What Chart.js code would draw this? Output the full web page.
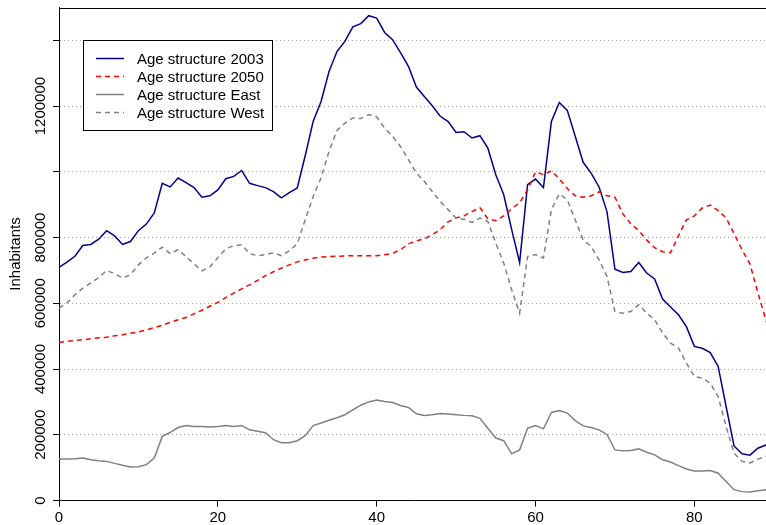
<!DOCTYPE html>
<html>
<head>
<meta charset="utf-8">
<title>Age structure</title>
<script src="https://cdn.jsdelivr.net/npm/chart.js@4.4.1/dist/chart.umd.min.js"></script>
<style>
  html, body { margin: 0; padding: 0; background: #fff; overflow: hidden; }
  #wrap { width: 769px; height: 525px; }
</style>
</head>
<body>
<div id="wrap"><canvas id="ageChart" width="769" height="525"></canvas></div>
<script>
// --- data ---
const ages = [
  0, 1, 2, 3, 4, 5, 6, 7, 8, 9,
  10, 11, 12, 13, 14, 15, 16, 17, 18, 19,
  20, 21, 22, 23, 24, 25, 26, 27, 28, 29,
  30, 31, 32, 33, 34, 35, 36, 37, 38, 39,
  40, 41, 42, 43, 44, 45, 46, 47, 48, 49,
  50, 51, 52, 53, 54, 55, 56, 57, 58, 59,
  60, 61, 62, 63, 64, 65, 66, 67, 68, 69,
  70, 71, 72, 73, 74, 75, 76, 77, 78, 79,
  80, 81, 82, 83, 84, 85, 86, 87, 88, 89,
  90
];

const pop2003 = [
  709000, 725000, 743000, 776000, 779000, 795000, 821000, 805000, 779000, 788000,
  821000, 841000, 875000, 965000, 954000, 981000, 967000, 952000, 923000, 927000,
  945000, 979000, 986000, 1004000, 965000, 958000, 952000, 940000, 921000, 937000,
  951000, 1049000, 1153000, 1214000, 1305000, 1366000, 1397000, 1441000, 1451000, 1475000,
  1468000, 1424000, 1402000, 1363000, 1321000, 1258000, 1229000, 1201000, 1169000, 1153000,
  1120000, 1122000, 1103000, 1110000, 1072000, 991000, 930000, 824000, 724000, 961000,
  978000, 952000, 1153000, 1211000, 1187000, 1108000, 1029000, 996000, 954000, 879000,
  704000, 694000, 697000, 724000, 692000, 674000, 613000, 589000, 565000, 529000,
  469000, 463000, 450000, 408000, 286000, 166000, 142000, 138000, 159000, 169000,
  130000
];

const pop2050 = [
  481000, 484000, 487000, 489000, 492000, 495000, 497000, 501000, 504000, 509000,
  513000, 519000, 526000, 533000, 542000, 550000, 557000, 568000, 579000, 591000,
  603000, 617000, 631000, 644000, 656000, 670000, 684000, 696000, 707000, 717000,
  726000, 732000, 737000, 741000, 742000, 743000, 744000, 745000, 745000, 745000,
  745000, 748000, 752000, 763000, 781000, 790000, 796000, 809000, 824000, 848000,
  860000, 866000, 879000, 891000, 857000, 851000, 866000, 888000, 906000, 945000,
  1000000, 991000, 1003000, 979000, 949000, 927000, 923000, 927000, 939000, 927000,
  923000, 872000, 842000, 821000, 793000, 769000, 757000, 754000, 805000, 854000,
  866000, 890000, 899000, 882000, 860000, 812000, 763000, 720000, 632000, 550000,
  468000
];

const popEast = [
  126000, 126000, 127000, 129000, 124000, 121000, 119000, 113000, 107000, 102000,
  103000, 109000, 129000, 195000, 207000, 222000, 228000, 225000, 225000, 224000,
  225000, 228000, 225000, 228000, 215000, 211000, 206000, 185000, 176000, 176000,
  182000, 197000, 228000, 236000, 244000, 252000, 261000, 276000, 290000, 300000,
  306000, 301000, 298000, 289000, 283000, 264000, 259000, 261000, 265000, 263000,
  261000, 259000, 258000, 250000, 220000, 190000, 182000, 142000, 154000, 220000,
  228000, 218000, 268000, 274000, 266000, 243000, 227000, 222000, 215000, 201000,
  154000, 151000, 152000, 157000, 147000, 139000, 124000, 117000, 106000, 96000,
  90000, 90000, 91000, 83000, 58000, 33000, 27000, 26000, 30000, 33000,
  30000
];

const popWest = [
  585000, 601000, 626000, 646000, 662000, 678000, 700000, 690000, 677000, 687000,
  717000, 738000, 753000, 771000, 751000, 763000, 742000, 720000, 699000, 711000,
  739000, 766000, 775000, 778000, 751000, 745000, 748000, 754000, 745000, 760000,
  781000, 854000, 925000, 982000, 1062000, 1126000, 1148000, 1164000, 1162000, 1174000,
  1167000, 1133000, 1108000, 1077000, 1037000, 996000, 971000, 940000, 910000, 885000,
  859000, 856000, 846000, 859000, 849000, 783000, 722000, 641000, 570000, 742000,
  748000, 738000, 885000, 933000, 915000, 854000, 793000, 773000, 732000, 682000,
  575000, 570000, 575000, 596000, 570000, 550000, 510000, 479000, 464000, 418000,
  377000, 372000, 357000, 316000, 225000, 144000, 119000, 114000, 126000, 134000,
  121000
];

const seriesNames = ['Age structure 2003', 'Age structure 2050', 'Age structure East', 'Age structure West'];
const xTickValues = [0, 20, 40, 60, 80];
const yTickValues = [0, 200000, 400000, 600000, 800000, 1000000, 1200000, 1400000];
const yLabelValues = [0, 200000, 400000, 600000, 800000, 1200000];

// --- styling ---
const FONT = '"Liberation Sans", Arial, Helvetica, sans-serif';
Chart.defaults.font.family = FONT;
Chart.defaults.font.size = 15;
Chart.defaults.color = '#000';

const seriesStyle = [
  { color: '#00008b', dash: [] },
  { color: '#ff0000', dash: [5, 4] },
  { color: '#808080', dash: [] },
  { color: '#808080', dash: [5, 4] }
];

function toPoints(vals) {
  return vals.map((v, i) => ({ x: ages[i], y: v }));
}

// R-ish frame: top border, rotated y labels, boxed legend
const rFrame = {
  id: 'rFrame',
  afterDraw(chart) {
    const ctx = chart.ctx;
    const area = chart.chartArea;
    const yScale = chart.scales.y;

    ctx.save();
    ctx.strokeStyle = '#000';
    ctx.lineWidth = 1;
    ctx.beginPath();
    ctx.moveTo(area.left, Math.round(area.top) + 0.5);
    ctx.lineTo(area.right, Math.round(area.top) + 0.5);
    ctx.stroke();

    // y tick labels, reading upwards like R's las=0
    ctx.fillStyle = '#000';
    ctx.font = '15px ' + FONT;
    ctx.textAlign = 'center';
    ctx.textBaseline = 'alphabetic';
    yLabelValues.forEach(v => {
      const py = yScale.getPixelForValue(v);
      ctx.save();
      ctx.translate(45, py);
      ctx.rotate(-Math.PI / 2);
      ctx.fillText(String(v), 0, 0);
      ctx.restore();
    });

    // legend box
    const box = { x: 83.5, y: 40.5, w: 189, h: 90 };
    ctx.fillStyle = '#fff';
    ctx.fillRect(box.x, box.y, box.w, box.h);
    ctx.strokeStyle = '#000';
    ctx.strokeRect(box.x, box.y, box.w, box.h);

    const rows = [58.5, 76.5, 94.5, 112.5];
    ctx.textAlign = 'left';
    ctx.textBaseline = 'middle';
    chart.data.datasets.forEach((ds, i) => {
      const ry = rows[i];
      ctx.strokeStyle = seriesStyle[i].color;
      ctx.lineWidth = 1.5;
      ctx.setLineDash(seriesStyle[i].dash);
      ctx.beginPath();
      ctx.moveTo(96, ry);
      ctx.lineTo(124, ry);
      ctx.stroke();
      ctx.setLineDash([]);
      ctx.fillStyle = '#000';
      ctx.fillText(ds.label, 137, ry + 1);
    });
    ctx.restore();
  }
};

const ctx = document.getElementById('ageChart');
new Chart(ctx, {
  type: 'line',
  data: {
    datasets: seriesNames.map((name, i) => ({
      label: name,
      data: toPoints([pop2003, pop2050, popEast, popWest][i]),
      borderColor: seriesStyle[i].color,
      borderDash: seriesStyle[i].dash,
      borderWidth: 1.5,
      pointRadius: 0,
      tension: 0,
      fill: false,
      order: 3 - i
    }))
  },
  options: {
    responsive: false,
    animation: false,
    layout: { padding: { top: 7.5, right: 0, bottom: 0, left: 0 } },
    plugins: {
      legend: { display: false },
      tooltip: { enabled: false }
    },
    scales: {
      x: {
        type: 'linear',
        min: 0,
        max: 89.4,
        afterFit(scale) { scale.height = 24.5; },
        afterBuildTicks(scale) { scale.ticks = xTickValues.map(v => ({ value: v })); },
        ticks: { padding: 2, maxRotation: 0, autoSkip: false, color: '#000', font: { size: 15 } },
        grid: { drawOnChartArea: false, drawTicks: true, tickLength: 6, tickColor: '#000' },
        border: { display: true, color: '#000', width: 1 }
      },
      y: {
        type: 'linear',
        min: 0,
        max: 1500000,
        afterFit(scale) { scale.width = 59; },
        afterBuildTicks(scale) { scale.ticks = yTickValues.map(v => ({ value: v })); },
        ticks: { display: false },
        grid: {
          color: '#a8a8a8',
          lineWidth: 1,
          drawTicks: true,
          tickLength: 6,
          tickColor: '#000',
          tickBorderDash: []
        },
        border: { display: true, color: '#000', width: 1, dash: [1, 3] },
        title: {
          display: true,
          text: 'Inhabitants',
          color: '#000',
          font: { size: 15 },
          padding: { top: 7, bottom: 0 }
        }
      }
    }
  },
  plugins: [rFrame]
});
</script>
</body>
</html>
